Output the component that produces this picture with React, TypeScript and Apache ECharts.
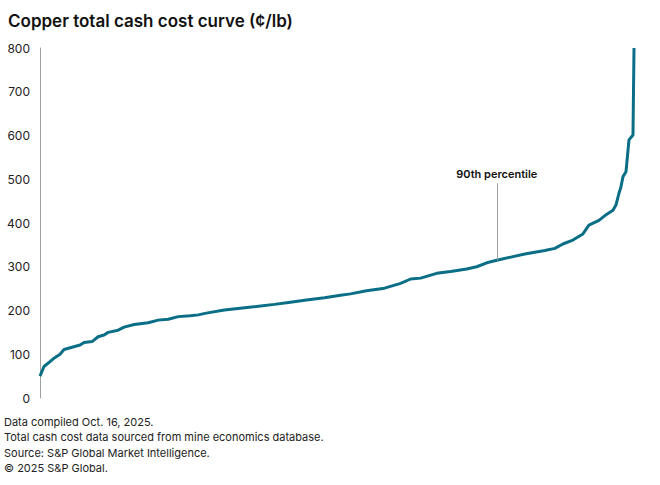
import React, { useEffect, useRef } from "react";
import * as echarts from "echarts";

const mineRank = [0, 2, 5, 7, 10, 12, 16, 20, 22, 26, 29, 32, 34, 39, 42, 47, 54, 59, 64, 69, 75, 79, 83, 92, 100, 108, 117, 125, 133, 142, 150, 155, 163, 172, 180, 185, 190, 198, 205, 213, 218, 223, 228, 235, 242, 252, 257, 261, 266, 271, 274, 279, 282, 286, 287.5, 289, 290, 291, 292.5, 294, 296, 296.5];
const cashCost = [50, 72, 83, 91, 100, 111, 116, 121, 127, 129, 140, 144, 150, 155, 162, 168, 172, 178, 180, 186, 188, 190, 194, 201, 205, 209, 214, 219, 224, 229, 235, 238, 245, 251, 262, 272, 274, 285, 289, 295, 300, 309, 315, 322, 329, 337, 342, 352, 361, 375, 395, 406, 417, 429, 441, 468, 483, 506, 517, 590, 601, 800];
const yTicks = { min: 0, max: 800, interval: 100 };
const percentileRank = 228;
const percentileCost = 315;
const percentileLabelTop = 491;
const titleText = "Copper total cash cost curve (¢/lb)";
const footnotes = [
  "Data compiled Oct. 16, 2025.",
  "Total cash cost data sourced from mine economics database.",
  "Source: S&P Global Market Intelligence.",
  "© 2025 S&P Global.",
];

const FONT = "Inter, 'Noto Sans', sans-serif";

export default function App() {
  const ref = useRef<HTMLDivElement>(null);
  useEffect(() => {
    if (!ref.current) return;
    const chart = echarts.init(ref.current, undefined, { renderer: "svg" });
    const data = mineRank.map((r, i) => [r, cashCost[i]]);
    chart.setOption({
      animation: false,
      backgroundColor: "#ffffff",
      textStyle: { fontFamily: FONT },
      title: {
        text: titleText,
        left: 3,
        top: 7,
        textStyle: { fontSize: 17, fontWeight: 600, color: "#111", fontFamily: FONT },
      },
      grid: { left: 40, right: 26, top: 48, bottom: 87 },
      xAxis: {
        type: "value",
        min: 0,
        max: 296.5,
        show: false,
      },
      yAxis: {
        type: "value",
        min: yTicks.min,
        max: yTicks.max,
        interval: yTicks.interval,
        axisLine: { show: true, lineStyle: { color: "#a0a0a0", width: 1 } },
        axisTick: { show: false },
        splitLine: { show: false },
        axisLabel: { color: "#222", fontSize: 12, margin: 10, fontFamily: FONT },
      },
      series: [
        {
          type: "line",
          data,
          symbol: "none",
          lineStyle: { color: "#0b6e87", width: 3 },
          markLine: {
            silent: true,
            symbol: ["none", "none"],
            lineStyle: { color: "#a0a0a0", width: 1, type: "solid" },
            label: {
              show: true,
              position: "end",
              formatter: "90th percentile",
              fontSize: 11,
              fontWeight: 600,
              color: "#111",
              fontFamily: FONT,
              distance: 4,
            },
            data: [
              [
                { coord: [percentileRank, percentileCost] },
                { coord: [percentileRank, percentileLabelTop] },
              ],
            ],
          },
        },
      ],
      graphic: footnotes.map((t, i) => ({
        type: "text",
        left: 4,
        top: 416 + i * 15.5,
        style: { text: t, fontSize: 11, fill: "#222", fontFamily: FONT },
      })),
    });
    return () => chart.dispose();
  }, []);
  return (
    <div
      ref={ref}
      style={{ position: "fixed", left: 0, top: 0, width: 660, height: 485 }}
    />
  );
}
